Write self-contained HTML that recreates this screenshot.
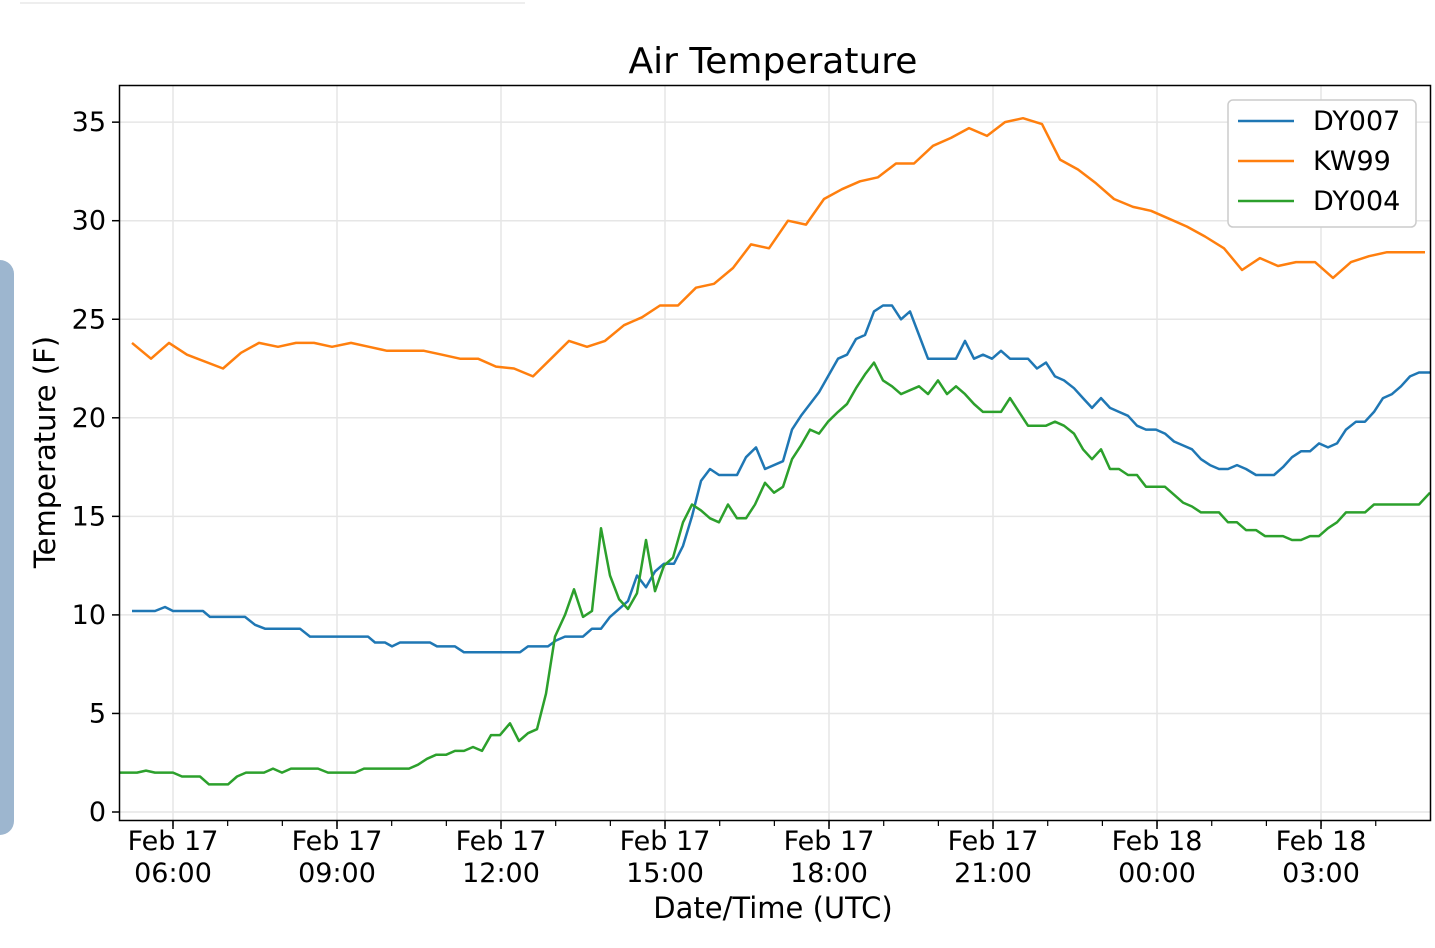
<!DOCTYPE html>
<html><head><meta charset="utf-8"><style>
body{margin:0;background:#fff;}
svg{display:block;font-family:"DejaVu Sans","Liberation Sans",sans-serif;}
</style></head><body>
<svg id="s" width="1435" height="948" xmlns="http://www.w3.org/2000/svg">
<rect x="0" y="0" width="1435" height="948" fill="#fff"/>
<line x1="20" y1="3" x2="525" y2="3" stroke="#eee" stroke-width="2"/>
<rect x="-20" y="260" width="34" height="575" rx="14" fill="#9db6cf"/>
<g id="grid"></g>
<g id="lines"></g>
<rect x="119.5" y="85.5" width="1311" height="735" fill="none" stroke="#000" stroke-width="1.5"/>
<g id="ticks"></g>
<text x="773" y="73" font-size="36" text-anchor="middle">Air Temperature</text>
<text x="773" y="918" font-size="29" text-anchor="middle">Date/Time (UTC)</text>
<text transform="translate(55,452) rotate(-90)" font-size="29" text-anchor="middle">Temperature (F)</text>
<g>
<rect x="1228" y="100" width="188" height="127" rx="5" fill="#fff" stroke="#ccc" stroke-width="1.5"/>
<line x1="1238" y1="121" x2="1294" y2="121" stroke="#1f77b4" stroke-width="2.5"/>
<line x1="1238" y1="161" x2="1294" y2="161" stroke="#ff7f0e" stroke-width="2.5"/>
<line x1="1238" y1="201" x2="1294" y2="201" stroke="#2ca02c" stroke-width="2.5"/>
<text x="1313" y="130" font-size="27">DY007</text>
<text x="1313" y="170" font-size="27">KW99</text>
<text x="1313" y="210" font-size="27">DY004</text>
</g>
</svg>
<script>
const Y=t=>812-t*19.71;
const ns="http://www.w3.org/2000/svg";
function el(p,tag,a,txt){const e=document.createElementNS(ns,tag);for(const k in a)e.setAttribute(k,a[k]);if(txt!==undefined)e.textContent=txt;document.getElementById(p).appendChild(e);}
for(let t=0;t<=35;t+=5){const y=Y(t);el('grid','line',{x1:120,x2:1430,y1:y,y2:y,stroke:'#e6e6e6','stroke-width':1.5});
el('ticks','line',{x1:112,x2:119,y1:y,y2:y,stroke:'#000','stroke-width':1.5});
el('ticks','text',{x:106,y:y+9,'font-size':27,'text-anchor':'end'},String(t));}
const labs=[["Feb 17","06:00"],["Feb 17","09:00"],["Feb 17","12:00"],["Feb 17","15:00"],["Feb 17","18:00"],["Feb 17","21:00"],["Feb 18","00:00"],["Feb 18","03:00"]];
for(let i=0;i<8;i++){const x=173+i*164;el('grid','line',{x1:x,x2:x,y1:86,y2:820,stroke:'#e6e6e6','stroke-width':1.5});
el('ticks','line',{x1:x,x2:x,y1:821,y2:829,stroke:'#000','stroke-width':1.5});
el('ticks','text',{x:x,y:850,'font-size':27,'text-anchor':'middle'},labs[i][0]);
el('ticks','text',{x:x,y:882,'font-size':27,'text-anchor':'middle'},labs[i][1]);}
for(let x=173-54.67;x<1430;x+=54.67){if(x>120)el('ticks','line',{x1:x,x2:x,y1:821,y2:826,stroke:'#000','stroke-width':1.2});}
const D={
"#1f77b4":[132,10.2,155,10.2,165,10.4,173,10.2,203,10.2,210,9.9,245,9.9,255,9.5,265,9.3,300,9.3,310,8.9,368,8.9,375,8.6,385,8.6,392,8.4,400,8.6,430,8.6,437,8.4,455,8.4,464,8.1,520,8.1,528,8.4,548,8.4,556,8.7,565,8.9,583,8.9,592,9.3,601,9.3,610,9.9,628,10.7,637,12.0,646,11.4,655,12.2,664,12.6,674,12.6,683,13.5,692,15,701,16.8,710,17.4,719,17.1,737,17.1,746,18,756,18.5,765,17.4,783,17.8,792,19.4,801,20.1,810,20.7,819,21.3,828,22.1,838,23,847,23.2,856,24,865,24.2,874,25.4,883,25.7,892,25.7,901,25,910,25.4,919,24.2,928,23,956,23,965,23.9,974,23,983,23.2,992,23,1001,23.4,1010,23,1028,23,1037,22.5,1046,22.8,1055,22.1,1064,21.9,1074,21.5,1083,21,1092,20.5,1101,21,1110,20.5,1119,20.3,1128,20.1,1137,19.6,1146,19.4,1156,19.4,1165,19.2,1174,18.8,1183,18.6,1192,18.4,1201,17.9,1210,17.6,1219,17.4,1228,17.4,1237,17.6,1246,17.4,1256,17.1,1274,17.1,1283,17.5,1292,18,1301,18.3,1310,18.3,1319,18.7,1328,18.5,1337,18.7,1346,19.4,1356,19.8,1365,19.8,1374,20.3,1383,21,1392,21.2,1401,21.6,1410,22.1,1419,22.3,1430,22.3],
"#ff7f0e":[132,23.8,151,23.0,169,23.8,187,23.2,223,22.5,241,23.3,259,23.8,278,23.6,296,23.8,314,23.8,332,23.6,351,23.8,369,23.6,387,23.4,424,23.4,442,23.2,460,23.0,478,23.0,496,22.6,514,22.5,533,22.1,551,23.0,569,23.9,587,23.6,605,23.9,624,24.7,642,25.1,660,25.7,678,25.7,696,26.6,714,26.8,733,27.6,751,28.8,769,28.6,788,30.0,806,29.8,824,31.1,842,31.6,860,32.0,878,32.2,896,32.9,914,32.9,933,33.8,951,34.2,969,34.7,987,34.3,1005,35.0,1023,35.2,1042,34.9,1060,33.1,1078,32.6,1096,31.9,1114,31.1,1133,30.7,1151,30.5,1169,30.1,1187,29.7,1205,29.2,1224,28.6,1242,27.5,1260,28.1,1278,27.7,1296,27.9,1315,27.9,1333,27.1,1351,27.9,1369,28.2,1387,28.4,1405,28.4,1425,28.4],
"#2ca02c":[120,2,137,2,146,2.1,155,2,173,2,182,1.8,200,1.8,209,1.4,228,1.4,237,1.8,246,2,264,2,273,2.2,282,2,291,2.2,318,2.2,328,2,355,2,364,2.2,409,2.2,418,2.4,427,2.7,436,2.9,446,2.9,455,3.1,464,3.1,473,3.3,482,3.1,491,3.9,500,3.9,510,4.5,519,3.6,528,4,537,4.2,546,6,555,8.9,565,10,574,11.3,583,9.9,592,10.2,601,14.4,610,12,619,10.8,628,10.3,637,11.1,646,13.8,655,11.2,664,12.5,673,12.9,683,14.7,692,15.6,701,15.3,710,14.9,719,14.7,728,15.6,737,14.9,746,14.9,755,15.6,765,16.7,774,16.2,783,16.5,792,17.9,801,18.6,810,19.4,819,19.2,828,19.8,838,20.3,847,20.7,856,21.5,865,22.2,874,22.8,883,21.9,892,21.6,901,21.2,910,21.4,919,21.6,928,21.2,938,21.9,947,21.2,956,21.6,965,21.2,974,20.7,983,20.3,1001,20.3,1010,21,1019,20.3,1028,19.6,1046,19.6,1055,19.8,1064,19.6,1074,19.2,1083,18.4,1092,17.9,1101,18.4,1110,17.4,1119,17.4,1128,17.1,1137,17.1,1146,16.5,1165,16.5,1174,16.1,1183,15.7,1192,15.5,1201,15.2,1219,15.2,1228,14.7,1237,14.7,1246,14.3,1256,14.3,1265,14,1283,14,1292,13.8,1301,13.8,1310,14,1319,14,1328,14.4,1337,14.7,1346,15.2,1365,15.2,1374,15.6,1419,15.6,1430,16.2]};
for(const c in D){const a=D[c];let p=[];for(let i=0;i<a.length;i+=2)p.push(a[i]+','+Y(a[i+1]).toFixed(1));
el('lines','polyline',{points:p.join(' '),fill:'none',stroke:c,'stroke-width':2.5,'stroke-linejoin':'round'});}
</script>
</body></html>
